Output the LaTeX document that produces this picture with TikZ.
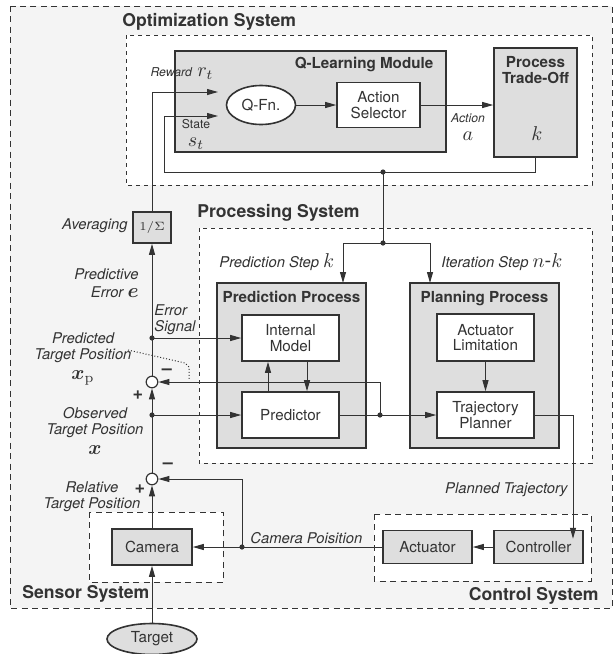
\documentclass[tikz,border=0pt]{standalone}
\usepackage{amsmath}
\usepackage[no-math]{fontspec}
\setmainfont{TeX Gyre Heros}
\usetikzlibrary{arrows.meta,shapes.geometric}

\definecolor{outerbg}{gray}{0.955}
\definecolor{boxgray}{gray}{0.87}
\definecolor{ink}{gray}{0.2}

\newcommand{\sysfont}{\fontsize{8.8}{10}\selectfont\bfseries}
\newcommand{\titlefont}{\fontsize{7.6}{8}\selectfont\bfseries}
\newcommand{\boxfont}{\fontsize{7.6}{7.8}\selectfont}
\newcommand{\lblfont}{\fontsize{7.4}{7.8}\selectfont\itshape}
\newcommand{\tinyfont}{\fontsize{6.1}{6.5}\selectfont\itshape}

\begin{document}
\begin{tikzpicture}[x=0.5pt,y=-0.5pt,
    every node/.style={text=ink, inner sep=0pt},
    sysframe/.style={draw=ink, line width=0.5pt, dash pattern=on 3pt off 2.2pt},
    subframe/.style={draw=ink, line width=0.5pt, dash pattern=on 2.2pt off 1.8pt, fill=white},
    graybox/.style={draw=ink, line width=0.8pt, fill=boxgray},
    whitebox/.style={draw=ink, line width=0.8pt, fill=white, align=center, font=\boxfont},
    sumnode/.style={circle, draw=ink, line width=0.6pt, fill=white, minimum size=5.8pt},
    conn/.style={draw=ink, line width=0.5pt},
    arr/.style={conn, -{Triangle[length=5.5pt,width=3pt]}},
    joint/.style={circle, fill=ink, minimum size=2.6pt},
    lbl/.style={font=\lblfont, align=center},
    tinylbl/.style={font=\tinyfont, align=center},
    systitle/.style={font=\sysfont},
    boxtitle/.style={font=\titlefont, align=center}]

    \useasboundingbox (0,0) rectangle (616,654);
    \draw[sysframe, fill=outerbg] (10,6) rectangle (612,608);

    \draw[subframe] (126,35) rectangle (592,185);
    \node[systitle, anchor=west] (optlbl) at (122,22) {Optimization System};
    \draw[graybox] (175,51) rectangle (446,152);
    \node[boxtitle] (qlmlbl) at (364,64) {Q-Learning Module};
    \node[ellipse, draw=ink, line width=0.8pt, fill=white, font=\boxfont,
          minimum width=34.5pt, minimum height=19.5pt] (qfn) at (261,105) {Q-Fn.};
    \node[whitebox, minimum width=41.5pt, minimum height=22.5pt] (sel) at (378.5,105) {Action\\Selector};
    \node[graybox, minimum width=41.5pt, minimum height=54.5pt] (trade) at (535.5,102.5) {};
    \node[boxtitle] (tradelbl) at (535.5,70) {Process\\Trade-Off};
    \node (klbl) at (537,134) {\normalsize $k$};
    \node[tinylbl] (actlbl) at (468,127) {Action\\[2.5pt] \normalsize\upshape $a$};
    \node (rewlbl) at (182,74) {{\tinyfont Reward} \normalsize $r_t$};
    \node[tinylbl, font=\fontsize{6.1}{6.5}\selectfont] (statelbl) at (196,134) {State\\[2.5pt] \normalsize $s_t$};

    \draw[subframe] (199,228) rectangle (592,463);
    \node[systitle, anchor=west] (proclbl) at (197,213) {Processing System};
    \node[lbl, anchor=west] (pstep) at (219,262) {Prediction Step \normalsize\upshape $k$};
    \node[lbl, anchor=west] (istep) at (441,262) {Iteration Step \normalsize\upshape $n$-$k$};
    \node[graybox, minimum width=74.5pt, minimum height=82.5pt] (predproc) at (291.5,365.5) {};
    \node[boxtitle] (predproclbl) at (291.5,297) {Prediction Process};
    \node[graybox, minimum width=74.5pt, minimum height=82.5pt] (planproc) at (484.5,365.5) {};
    \node[boxtitle] (planproclbl) at (484.5,298) {Planning Process};
    \node[whitebox, minimum width=48.5pt, minimum height=23pt] (intmodel) at (290.5,338) {Internal\\Model};
    \node[whitebox, minimum width=48.5pt, minimum height=23pt] (predictor) at (290.5,415) {Predictor};
    \node[whitebox, minimum width=48.5pt, minimum height=23.5pt] (actlim) at (485.5,337.5) {Actuator\\Limitation};
    \node[whitebox, minimum width=48.5pt, minimum height=23pt] (trajpl) at (485.5,415) {Trajectory\\Planner};

    \draw[sysframe, fill=white] (89,512) rectangle (223,582);
    \node[systitle, anchor=west] (senslbl) at (22,594) {Sensor System};
    \node[graybox, font=\boxfont, minimum width=40pt, minimum height=18pt] (camera) at (152,547) {Camera};
    \node[ellipse, draw=ink, line width=0.8pt, fill=boxgray, font=\boxfont,
          minimum width=45pt, minimum height=15.5pt] (target) at (152,639) {Target};

    \draw[sysframe, fill=white] (374,514) rectangle (591,581);
    \node[systitle, anchor=east] (ctrllbl) at (599,596) {Control System};
    \node[graybox, font=\boxfont, minimum width=44.5pt, minimum height=16.5pt] (actuator) at (427.5,547) {Actuator};
    \node[graybox, font=\boxfont, minimum width=44.5pt, minimum height=16.5pt] (controller) at (538.5,547) {Controller};

    \node[graybox, minimum width=19pt, minimum height=15.5pt] (avg) at (152,227.5) {\fontsize{6.5}{7}\selectfont $1/\Sigma$};
    \node[lbl, anchor=east] (avglbl) at (128,226) {Averaging};
    \node[sumnode] (sum1) at (152,382) {};
    \node[sumnode] (sum2) at (152,479) {};
    \node[font=\bfseries\small] (plus1) at (138,395) {+};
    \node[font=\bfseries\small] (minus1) at (167,372) {--};
    \node[font=\bfseries\small] (plus2) at (140,489) {+};
    \node[font=\bfseries\small] (minus2) at (168,466) {--};

    \node[lbl, align=right, anchor=east] (perrlbl) at (139,283) {Predictive\\[1pt] Error \normalsize\upshape $\boldsymbol{e}$};
    \node[lbl, align=left, anchor=west] (esiglbl) at (154,320) {Error\\Signal};
    \node[lbl] (xplbl) at (83,359) {Predicted\\Target Position\\[2pt] \normalsize\upshape $\boldsymbol{x}_{\mathrm{p}}$};
    \node[lbl] (xlbl) at (95,431) {Observed\\Target Position\\[2pt] \normalsize\upshape $\boldsymbol{x}$};
    \node[lbl] (rellbl) at (92,497) {Relative\\Target Position};
    \node[lbl, anchor=west] (camlbl) at (250,538) {Camera Poisition};
    \node[lbl, anchor=east] (planlbl) at (568,490) {Planned Trajectory};

    \coordinate (rin) at (218,92);
    \coordinate (sin) at (218,116);
    \coordinate (sturn) at (164,172);
    \coordinate (kdot) at (383,172);
    \coordinate (ksplit) at (383,243);
    \coordinate (kp1) at (343,283);
    \coordinate (kp2) at (430,283);
    \coordinate (edot) at (152,338);
    \coordinate (odot) at (152,415);
    \coordinate (pdot) at (380,415);
    \coordinate (cdot) at (242,547);
    \coordinate (ctin) at (573,538.75);
    \coordinate (xplead) at (128,350);

    \draw[arr] (avg.north) |- (rin);
    \draw[arr] (trade.south) |- (sturn) |- (sin);
    \draw[arr] (qfn.east) -- (sel.west);
    \draw[arr] (sel.east) -- (trade.west |- sel.east);
    \draw[conn] (kdot) -- (ksplit);
    \draw[arr] (ksplit) -| (kp1);
    \draw[arr] (ksplit) -| (kp2);
    \draw[arr] ([xshift=-11.25pt]predictor.north) -- ([xshift=-11.25pt]intmodel.south);
    \draw[arr] ([xshift=8.25pt]intmodel.south) -- ([xshift=8.25pt]predictor.north);
    \draw[arr] (actlim) -- (trajpl);
    \draw[arr] (predictor) -- (trajpl);
    \draw[arr] (pdot) |- (sum1.east);
    \draw[arr] (edot) -- (intmodel.west);
    \draw[arr] (odot) -- (predictor.west);
    \draw[arr] (sum1.north) -- (avg.south);
    \draw[arr] (sum2.north) -- (sum1.south);
    \draw[arr] (camera.north) -- (sum2.south);
    \draw[arr] (target.north) -- (camera.south);
    \draw[arr] (controller) -- (actuator);
    \draw[arr] (actuator) -- (camera);
    \draw[arr] (cdot) |- (sum2.east);
    \draw[arr] (trajpl.east) -| (ctin);
    \draw[conn, densely dotted] (xplead) -- (185,363) -- (189,367) -- (189,380);

    \node[joint] at (kdot) {};
    \node[joint] at (ksplit) {};
    \node[joint] at (edot) {};
    \node[joint] at (odot) {};
    \node[joint] at (pdot) {};
    \node[joint] at (cdot) {};
\end{tikzpicture}
\end{document}
